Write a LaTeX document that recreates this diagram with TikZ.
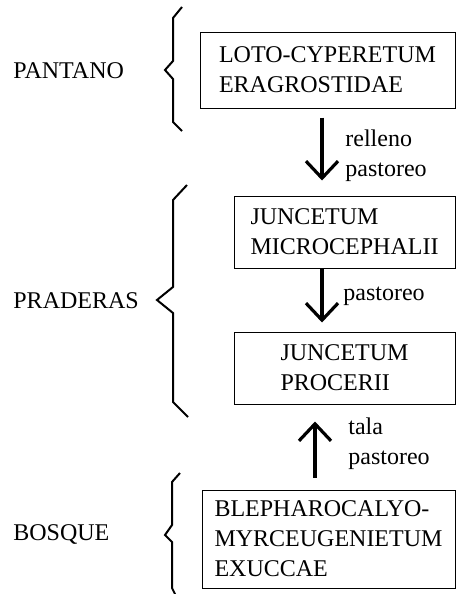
\documentclass[tikz,border=0pt]{standalone}
\usepackage{fontspec}
\setmainfont{Liberation Serif}
\usetikzlibrary{arrows.meta}

\begin{document}
\begin{tikzpicture}[
    x=0.5pt, y=-0.5pt,
    every node/.style={font=\fontsize{12}{15}\selectfont},
    unit/.style={rectangle, draw, line width=0.5pt, align=left, inner sep=0pt},
    zone/.style={anchor=base west, inner sep=0pt},
    cause/.style={anchor=west, align=left, inner sep=0pt},
    flow/.style={-{Straight Barb[length=8.5pt, width=16pt, line width=1.6pt]}, line width=1.6pt},
    brace/.style={line width=1pt, line join=miter}
]
    \useasboundingbox (0,0) rectangle (460,594);

    % Zones
    \node[zone] (pantano) at (13,78) {PANTANO};
    \node[zone] (praderas) at (13,308) {PRADERAS};
    \node[zone] (bosque) at (13,540) {BOSQUE};

    % Braces
    \draw[brace] (182,7) -- (173,18) -- (173,61) -- (165,70) -- (173,79) -- (173,122) -- (182,131);
    \draw[brace] (187,185) -- (173,200) -- (173,287) -- (157,300) -- (173,313) -- (173,402) -- (188,417);
    \draw[brace] (180,473) -- (172,482) -- (172,525) -- (165,535) -- (172,542) -- (172,588) -- (176,596);

    % Communities
    \node[unit, minimum width=127.5pt, minimum height=38pt] (loto) at (327.5,70) {LOTO-CYPERETUM\\ERAGROSTIDAE};
    \node[unit, minimum width=110.5pt, minimum height=36pt] (micro) at (344.5,232) {JUNCETUM\\MICROCEPHALII};
    \node[unit, minimum width=110.5pt, minimum height=36pt] (procerii) at (344.5,368) {JUNCETUM\\PROCERII};
    \node[unit, minimum width=126.5pt, minimum height=49pt] (bleph) at (328.5,539) {BLEPHAROCALYO-\\MYRCEUGENIETUM\\EXUCCAE};

    % Causes
    \node[cause] (relleno) at (345,156) {relleno\\pastoreo};
    \node[cause] (pastoreo) at (343,296) {pastoreo};
    \node[cause] (tala) at (348,444) {tala\\pastoreo};

    % Connections
    \coordinate (downx) at (322,0);
    \coordinate (upx) at (315,0);
    \draw[flow, shorten <=4.5pt, shorten >=7.5pt] (loto.south -| downx) -- (micro.north -| downx);
    \draw[flow, shorten >=4.5pt] (micro.south -| downx) -- (procerii.north -| downx);
    \draw[flow, shorten <=6pt, shorten >=8.5pt] (bleph.north -| upx) -- (procerii.south -| upx);
\end{tikzpicture}
\end{document}
